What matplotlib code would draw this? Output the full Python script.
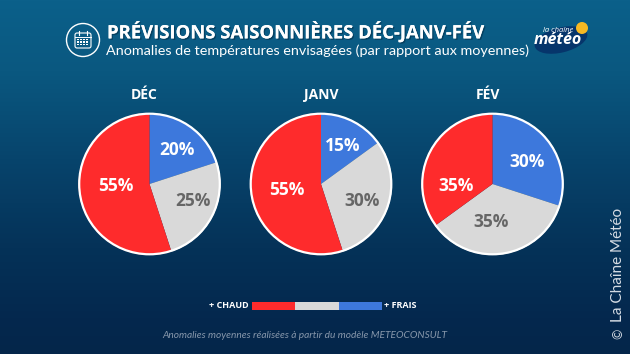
import matplotlib
matplotlib.use('Agg')
import matplotlib.pyplot as plt
import matplotlib.patheffects as pe
from matplotlib.patches import Circle, Ellipse, FancyBboxPatch, Rectangle
import numpy as np

months = ['DÉC', 'JANV', 'FÉV']
frais = [20, 15, 30]
normal = [25, 30, 35]
chaud = [55, 55, 35]
colors = ['#3d78dc', '#d9d9d9', '#fe2b2c']
label_colors = ['white', '#666666', 'white']
centers_x = [149.5, 321, 492.5]
title_x = [144.5, 321, 488]
# position des étiquettes (pixels) : frais, normal, chaud
label_xy = [[(177, 150), (193, 201), (116, 186)],
            [(343, 146), (362, 201), (287, 190)],
            [(527, 162), (491, 222), (456, 186)]]

W, H = 630, 354
CY = 184
R = 71


def px_axes(fig, cx, cy, r):
    # axes carré en coordonnées pixels
    return fig.add_axes([(cx - r) / W, 1 - (cy + r) / H, 2 * r / W, 2 * r / H])


def main():
    plt.rcParams['font.family'] = ['Open Sans', 'DejaVu Sans']
    fig = plt.figure(figsize=(6.3, 3.54), dpi=100)
    bg = fig.add_axes([0, 0, 1, 1])
    bg.set_xlim(0, W)
    bg.set_ylim(H, 0)
    bg.axis('off')

    # dégradé de fond
    grad = np.array([[11, 96, 138], [10, 88, 128], [7, 68, 108], [5, 50, 88], [4, 40, 78], [4, 38, 74]]) / 255
    stops = np.array([0, 0.2, 0.45, 0.7, 0.9, 1])
    t = np.linspace(0, 1, 354)
    img = np.stack([np.interp(t, stops, grad[:, i]) for i in range(3)], axis=1)[:, None, :]
    bg.imshow(img, extent=[0, W, H, 0], aspect='auto', zorder=0)

    # icône calendrier
    bg.add_patch(Circle((83, 40), 16.5, fc='none', ec='white', lw=1))
    bg.add_patch(FancyBboxPatch((75, 33), 16, 15, boxstyle='round,pad=0,rounding_size=2', fc='none', ec='white', lw=0.8))
    bg.plot([75, 91], [36.5, 36.5], color='white', lw=0.7)
    for xt in [79, 87]:
        bg.plot([xt, xt], [31, 34.5], color='white', lw=0.8)
    for yd in [39.5, 42, 44.5]:
        for xd in [78, 81, 84, 87]:
            bg.add_patch(Rectangle((xd - 0.8, yd - 0.8), 1.9, 1.6, fc='white', ec='none'))

    shadow = [pe.withSimplePatchShadow(offset=(1, -1), shadow_rgbFace='#02263f', alpha=0.5), pe.Normal()]
    bg.text(107, 32.5, 'PRÉVISIONS SAISONNIÈRES DÉC-JANV-FÉV', color='white', fontsize=13.3, fontweight='bold',
            va='center', ha='left', path_effects=shadow)
    bg.text(106, 51, 'Anomalies de températures envisagées (par rapport aux moyennes)', color='white', fontsize=10.4,
            family=['Lato', 'DejaVu Sans'], va='center', ha='left')

    # logo
    bg.add_patch(Ellipse((561, 40), 54, 25, angle=-14, fc='#06356b', ec='none', zorder=2))
    bg.add_patch(Circle((582, 28), 6, fc='#f6b923', ec='none', zorder=3))
    bg.text(558, 30, 'la chaîne', color='white', fontsize=5.5, style='italic', ha='center', va='center', zorder=4)
    bg.text(558, 40, 'météo', color='white', fontsize=11.5, style='italic', fontweight='bold', ha='center', va='center', zorder=4)

    # camemberts
    for i, cx in enumerate(centers_x):
        ax = px_axes(fig, cx, CY, R)
        vals = [frais[i], normal[i], chaud[i]]
        ax.pie(vals, colors=colors, startangle=90, counterclock=False, radius=1, wedgeprops={'linewidth': 0})
        ax.add_patch(Circle((0, 0), 0.99, fc='none', ec='white', lw=1.6, clip_on=False))
        ax.set_xlim(-1, 1)
        ax.set_ylim(-1, 1)
        for v, c, (lx, ly) in zip(vals, label_colors, label_xy[i]):
            fig.text(lx / W, 1 - ly / H, f'{v}%', color=c, fontsize=12.5, fontweight='bold',
                     ha='center', va='center')
        bg.text(title_x[i], 95, months[i], color='white', fontsize=10, fontweight='bold',
                ha='center', va='center')

    # légende
    bg.text(249, 305.5, '+ CHAUD', color='white', fontsize=6.5, fontweight='bold', ha='right', va='center')
    seg = [(251.5, colors[2]), (295, colors[1]), (338.5, colors[0])]
    for x0, c in seg:
        bg.add_patch(Rectangle((x0, 301.5), 43.5, 8.5, fc=c, ec='none', zorder=2))
    bg.text(384.5, 305.5, '+ FRAIS', color='white', fontsize=6.5, fontweight='bold', ha='left', va='center')

    bg.text(305, 336, 'Anomalies moyennes réalisées à partir du modèle METEOCONSULT', color='#8797ab', fontsize=7.3,
            style='italic', family=['Lato', 'DejaVu Sans'], ha='center', va='center')
    bg.text(618, 334, '©', color='#d5dce4', fontsize=9, rotation=90, ha='center', va='center',
            family=['Lato', 'DejaVu Sans'])
    bg.text(618, 322, 'La Chaîne Météo', color='#d5dce4', fontsize=11, rotation=90, ha='center', va='bottom',
            family=['Lato', 'DejaVu Sans'])

    fig.savefig('out.png', dpi=100)


if __name__ == '__main__':
    main()
